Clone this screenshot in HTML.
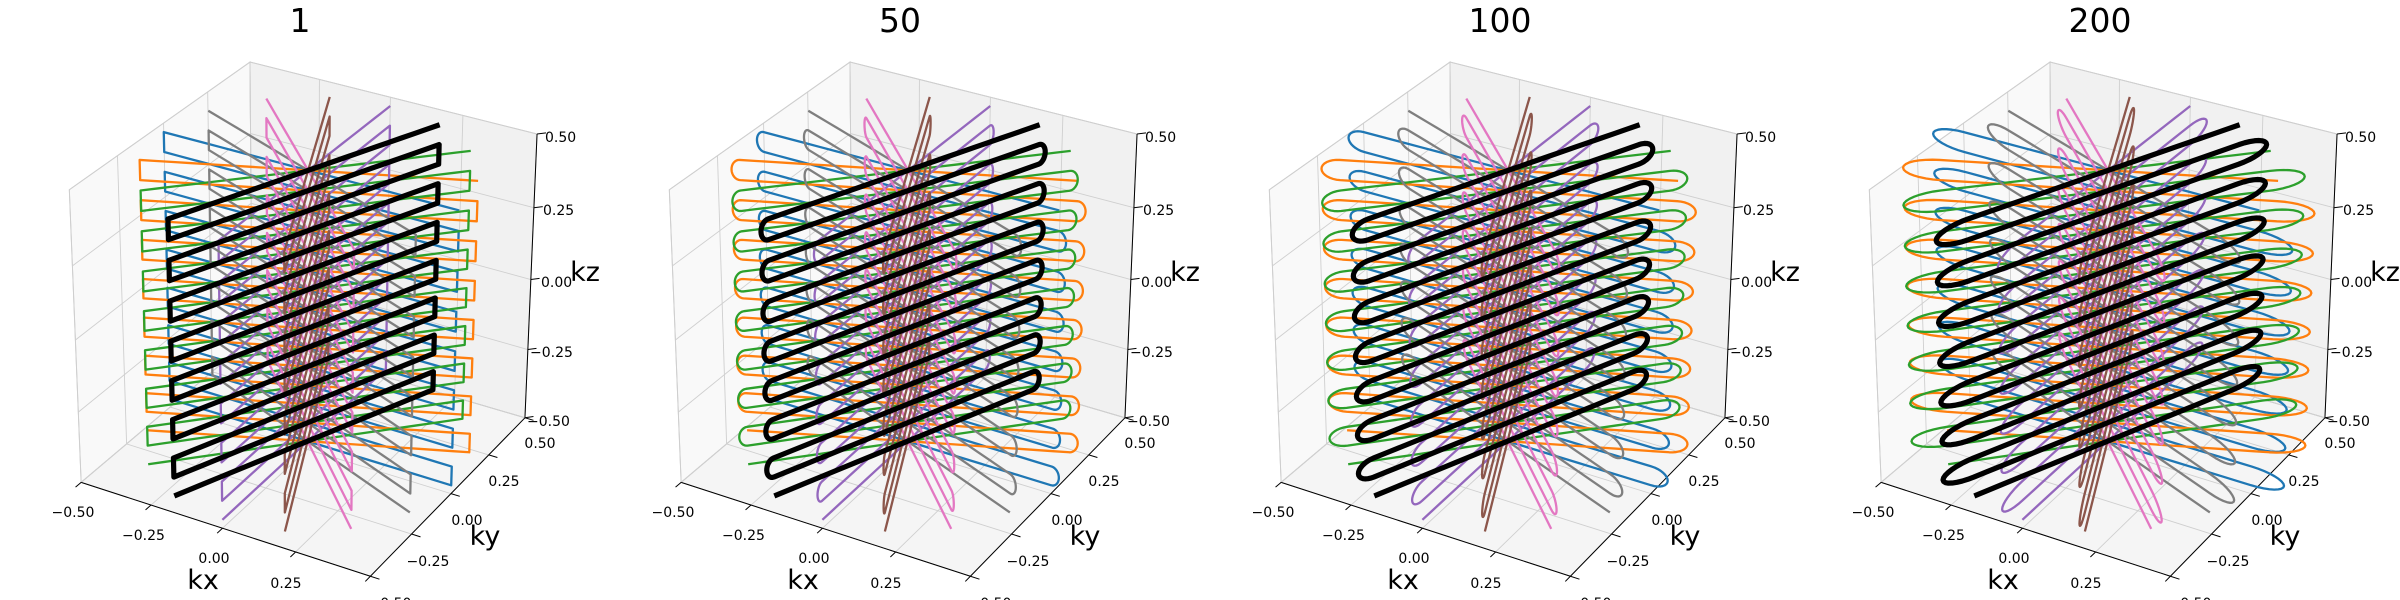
<!DOCTYPE html>
<html>
<head>
<meta charset="utf-8">
<style>
  html, body { margin: 0; padding: 0; background: #ffffff; }
  svg { display: block; }
  text { font-family: "DejaVu Sans", "Liberation Sans", sans-serif; fill: #000; }
</style>
</head>
<body>
<svg id="chart" xmlns="http://www.w3.org/2000/svg" width="2400" height="600" viewBox="0 0 2400 600"></svg>
<script>
// ---- data ----
const panelTitles = ['1', '50', '100', '200'];
const turnOvershoot = [0, 0.025, 0.055, 0.11];
const planeAngles = [0, 22.5, 45, 67.5, 90, 112.5, 135, 157.5];
const planeColors = ['#1f77b4', '#ff7f0e', '#2ca02c', '#000000', '#9467bd', '#8c564b', '#e377c2', '#7f7f7f'];
const planeNames = ['blue', 'orange', 'green', 'black', 'purple', 'brown', 'pink', 'gray'];
const numPasses = [15];
const readoutHalf = [0.5];
const zLevelMax = [0.47];
const tickValues = [-0.5, -0.25, 0, 0.25, 0.5];
const tickLabels = ['\u22120.50', '\u22120.25', '0.00', '0.25', '0.50'];

// ---- camera calibration (world -> panel pixel) ----
const calib = [
  [-0.5,-0.5,-0.5,82,482],[0.5,-0.5,-0.5,369,576],[0.5,0.5,-0.5,523,417],
  [0.5,0.5,0.5,536,134],[-0.5,-0.5,0.5,70,189],[-0.5,0.5,0.5,249,62],
  [0.5,0.5,0.25,533.8,208.6],[0.5,0.5,0,532.7,279.4],[0.5,0.5,-0.25,530,350],
  [0.5,0.25,-0.5,488,455],[0.5,0,-0.5,451.6,493.7],[0.5,-0.25,-0.5,413,532],
  [-0.25,-0.5,-0.5,151,505],[0,-0.5,-0.5,222,530],[0.25,-0.5,-0.5,294.7,553]
];
function solveCamera(pts) {
  const N = 11, A = [], b = [];
  pts.forEach(([x,y,z,u,v]) => {
    u /= 100; v /= 100;
    A.push([x,y,z,1,0,0,0,0,-u*x,-u*y,-u*z]); b.push(u);
    A.push([0,0,0,0,x,y,z,1,-v*x,-v*y,-v*z]); b.push(v);
  });
  const M = [], r = [];
  for (let i=0;i<N;i++){ M.push(new Array(N).fill(0)); r.push(0); }
  for (let k=0;k<A.length;k++) for (let i=0;i<N;i++){ r[i]+=A[k][i]*b[k]; for (let j=0;j<N;j++) M[i][j]+=A[k][i]*A[k][j]; }
  for (let c=0;c<N;c++){
    let p=c; for (let i=c+1;i<N;i++) if (Math.abs(M[i][c])>Math.abs(M[p][c])) p=i;
    [M[c],M[p]]=[M[p],M[c]]; [r[c],r[p]]=[r[p],r[c]];
    for (let i=0;i<N;i++){ if(i===c) continue; const f=M[i][c]/M[c][c]; for(let j=c;j<N;j++) M[i][j]-=f*M[c][j]; r[i]-=f*r[c]; }
  }
  return r.map((v,i)=>v/M[i][i]);
}
const P = solveCamera(calib);
function proj(x,y,z){
  const w = P[8]*x+P[9]*y+P[10]*z+1;
  return [100*(P[0]*x+P[1]*y+P[2]*z+P[3])/w, 100*(P[4]*x+P[5]*y+P[6]*z+P[7])/w];
}

const NS = 'http://www.w3.org/2000/svg';
const svg = document.getElementById('chart');
function mk(tag, attrs, parent){ const e=document.createElementNS(NS,tag); for(const k in attrs) e.setAttribute(k,attrs[k]); parent.appendChild(e); return e; }
function poly(pts3){ return pts3.map(p=>proj(p[0],p[1],p[2]).map(v=>v.toFixed(2)).join(',')).join(' '); }

function trajectory(phi, a){
  const c=Math.cos(phi*Math.PI/180), s=Math.sin(phi*Math.PI/180);
  const n=numPasses[0], r=readoutHalf[0], zm=zLevelMax[0], dz=2*zm/(n-1);
  const pts=[];
  for (let i=0;i<n;i++){
    const z=zm-i*dz, from=(i%2===0)?r:-r, to=-from;
    const steps=20;
    for (let k=0;k<=steps;k++){ const d=from+(to-from)*k/steps; pts.push([d*c,d*s,z]); }
    if (i<n-1){
      const zc=z-dz/2, sg=Math.sign(to), m=16;
      for (let k=1;k<m;k++){ const t=Math.PI*k/m; const d=to+sg*a*Math.sin(t); pts.push([d*c,d*s,zc+(dz/2)*Math.cos(t)]); }
    }
  }
  return pts;
}

panelTitles.forEach((title, pi) => {
  const g = mk('g', {transform:`translate(${pi*600},0)`}, svg);
  
  
  const lo=-0.5, hi=0.5;
  // panes
  const paneX = mk('polygon', {points: poly([[lo,lo,lo],[lo,hi,lo],[lo,hi,hi],[lo,lo,hi]]), fill:'#f9f9f9', stroke:'#c8c8c8', 'stroke-width':1}, g);
  
  
  const paneY = mk('polygon', {points: poly([[lo,hi,lo],[hi,hi,lo],[hi,hi,hi],[lo,hi,hi]]), fill:'#f1f1f1', stroke:'#c8c8c8', 'stroke-width':1}, g);
  
  
  const paneZ = mk('polygon', {points: poly([[lo,lo,lo],[hi,lo,lo],[hi,hi,lo],[lo,hi,lo]]), fill:'#f5f5f5', stroke:'#c8c8c8', 'stroke-width':1}, g);
  
  
  // grid
  const grid = mk('g', {stroke:'#cfcfcf', 'stroke-width':0.9, fill:'none'}, g);
  
  
  tickValues.forEach(t => {
    [[[lo,t,lo],[lo,t,hi]],[[lo,lo,t],[lo,hi,t]],[[t,hi,lo],[t,hi,hi]],[[lo,hi,t],[hi,hi,t]],[[t,lo,lo],[t,hi,lo]],[[lo,t,lo],[hi,t,lo]]].forEach(seg=>{
      const l = mk('polyline', {points: poly(seg)}, grid);
      
      
    });
  });
  // axes lines
  const axes = mk('g', {stroke:'#000', 'stroke-width':1, fill:'none'}, g);
  
  
  [[[lo,lo,lo],[hi,lo,lo]],[[hi,lo,lo],[hi,hi,lo]],[[hi,hi,lo],[hi,hi,hi]]].forEach(seg=>{
    const l = mk('polyline', {points: poly(seg)}, axes);
    
    
  });
  tickValues.forEach(t=>{
    [[[t,lo,lo],[t,lo-0.03,lo]],[[hi,t,lo],[hi+0.03,t,lo]],[[hi,hi,t],[hi+0.02,hi+0.02,t]]].forEach(seg=>{
      const l = mk('polyline', {points: poly(seg)}, axes);
      
      
    });
  });
  // trajectories
  const order = [0,1,2,4,7,6,5,3];
  order.forEach(k => {
    const isBlack = k===3;
    const pl = mk('polyline', {points: poly(trajectory(planeAngles[k], turnOvershoot[pi])), fill:'none', stroke: planeColors[k], 'stroke-width': isBlack?5.2:2.3, 'stroke-linejoin':'round', 'stroke-linecap':'butt'}, g);
    
    
  });
  // tick labels
  const kxPos = [[73,517],[143.5,540],[214,563],[286,588],[358,611]];
  const kyPos = [[390,608],[428,566],[467,525],[504,486],[540,448]];
  const kzPos = [[527,426],[530,357],[541,287],[543,215],[545,142]];
  const lab = mk('g', {'font-size':14}, g);
  
  
  tickLabels.forEach((s,i)=>{
    const a = mk('text', {x:kxPos[i][0], y:kxPos[i][1], 'text-anchor':'middle'}, lab); a.textContent=s;
    
    
    const b = mk('text', {x:kyPos[i][0], y:kyPos[i][1], 'text-anchor':'middle'}, lab); b.textContent=s;
    
    
    const c = mk('text', {x:kzPos[i][0], y:kzPos[i][1], 'text-anchor':'start'}, lab); c.textContent=s;
    
    
  });
  const ax = mk('text', {x:203, y:589, 'font-size':27, 'text-anchor':'middle'}, g); ax.textContent='kx';
  
  
  const ay = mk('text', {x:485, y:545, 'font-size':27, 'text-anchor':'middle'}, g); ay.textContent='ky';
  
  
  const az = mk('text', {x:585, y:281, 'font-size':27, 'text-anchor':'middle'}, g); az.textContent='kz';
  
  
  const tt = mk('text', {x:300, y:32, 'font-size':33, 'text-anchor':'middle'}, g); tt.textContent=title;
  
  
});
</script>
</body>
</html>
